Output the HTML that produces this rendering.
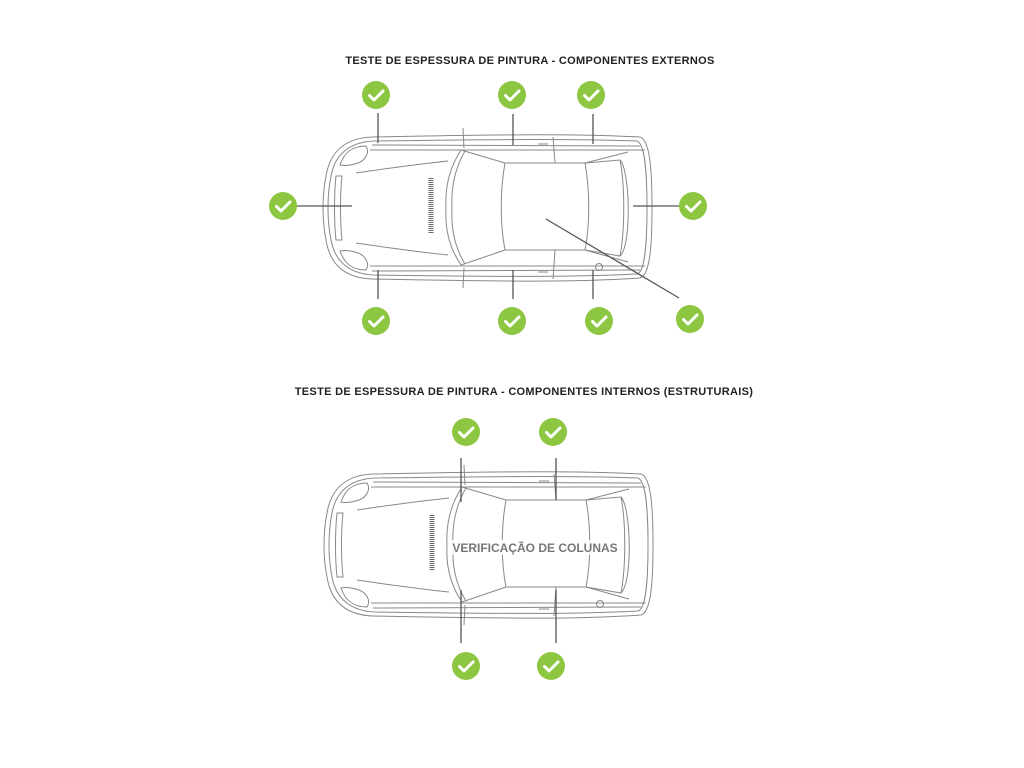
<!DOCTYPE html>
<html><head><meta charset="utf-8"><style>
html,body{margin:0;padding:0;background:#fff;}
svg{display:block}
</style></head><body>
<svg width="1024" height="768" viewBox="0 0 1024 768" xmlns="http://www.w3.org/2000/svg">
<defs>
<symbol id="ck" viewBox="-15 -15 30 30" overflow="visible">
<circle r="14" fill="#8dc640"/>
<path d="M-6.5 0.5 L-2 5 L7 -4" fill="none" stroke="#fff" stroke-width="3" stroke-linecap="round" stroke-linejoin="round"/>
</symbol>
<g id="car" fill="none" stroke="#888" stroke-width="1">
<path d="M372 137 C520 134 580 134 640 137 C650 140 652 170 652 208 C652 246 650 275 640 278 C580 282 520 282 372 279 C345 278 330 265 326 240 C322 220 322 196 326 176 C330 152 345 138 372 137 Z"/>
<path d="M374 141 C520 139 580 139 637 141 C645 144 647 172 647 208 C647 244 645 272 637 274 C580 277 520 277 374 275 C350 274 335 262 331 240 C327 220 327 196 331 176 C335 154 350 142 374 141 Z"/>
<path d="M370 150 L645 150 M370 266 L645 266"/>
<path d="M372 145 L640 146 M372 271 L640 270"/>
<path d="M340 165 C345 150 355 146 366 146 C370 152 366 160 358 163 C352 165 345 166 340 165 Z"/>
<path d="M340 251 C345 266 355 270 366 270 C370 264 366 256 358 253 C352 251 345 250 340 251 Z"/>
<path d="M336 176 C334 195 334 221 336 240 L342 240 C340 221 340 195 342 176 Z"/>
<path d="M356 173 C390 168 420 164 448 161 M356 243 C390 248 420 252 448 255"/>
<g stroke="#666"><line x1="431" y1="178" x2="431" y2="233" stroke-width="5" stroke-dasharray="1 1"/></g>
<path d="M461 150 C448 170 445 190 446 208 C445 226 448 246 461 265"/>
<path d="M465 151 C454 170 451 190 452 208 C451 226 454 246 465 264"/>
<path d="M461 150 L505 163 L585 163 L628 152 M461 265 L505 250 L585 250 L628 262"/>
<path d="M464 148 L463 128 M464 268 L463 288"/>
<path d="M505 163 C500 190 500 225 505 250 M585 163 C590 190 590 225 585 250"/>
<path d="M585 163 L620 160 C625 185 625 230 620 256 L585 250"/>
<path d="M620 160 C630 170 632 245 620 256"/>
<path d="M553 137 L555 163 M553 279 L555 250"/>
<path d="M538 144 L548 144 M538 272 L548 272"/>
<circle cx="599" cy="267" r="3.5"/>
</g>
</defs>

<text x="530" y="64" text-anchor="middle" font-family="Liberation Sans, sans-serif" font-weight="bold" font-size="11" letter-spacing="0.3" fill="#222">TESTE DE ESPESSURA DE PINTURA - COMPONENTES EXTERNOS</text>
<text x="524" y="395" text-anchor="middle" font-family="Liberation Sans, sans-serif" font-weight="bold" font-size="11" letter-spacing="0.3" fill="#222">TESTE DE ESPESSURA DE PINTURA - COMPONENTES INTERNOS (ESTRUTURAIS)</text>

<use href="#car"/>
<g stroke="#555" stroke-width="1.3">
<line x1="378" y1="113" x2="378" y2="143"/>
<line x1="513" y1="114" x2="513" y2="145"/>
<line x1="593" y1="114" x2="593" y2="144"/>
<line x1="378" y1="270" x2="378" y2="299"/>
<line x1="513" y1="270" x2="513" y2="299"/>
<line x1="593" y1="270" x2="593" y2="299"/>
<line x1="297" y1="206" x2="352" y2="206"/>
<line x1="633" y1="206" x2="680" y2="206"/>
<line x1="546" y1="219" x2="679" y2="298"/>
</g>
<use href="#ck" x="361" y="80" width="30" height="30"/>
<use href="#ck" x="497" y="80" width="30" height="30"/>
<use href="#ck" x="576" y="80" width="30" height="30"/>
<use href="#ck" x="268" y="191" width="30" height="30"/>
<use href="#ck" x="678" y="191" width="30" height="30"/>
<use href="#ck" x="361" y="306" width="30" height="30"/>
<use href="#ck" x="497" y="306" width="30" height="30"/>
<use href="#ck" x="584" y="306" width="30" height="30"/>
<use href="#ck" x="675" y="304" width="30" height="30"/>

<use href="#car" transform="translate(1,337)"/>
<g stroke="#555" stroke-width="1.3">
<line x1="461" y1="458" x2="461" y2="502"/>
<line x1="556" y1="458" x2="556" y2="500"/>
<line x1="461" y1="590" x2="461" y2="643"/>
<line x1="556" y1="590" x2="556" y2="643"/>
</g>
<rect x="449" y="540" width="172" height="15" fill="#fff" opacity="0.85"/>
<text x="535" y="552" text-anchor="middle" font-family="Liberation Sans, sans-serif" font-weight="bold" font-size="12" fill="#777">VERIFICAÇÃO DE COLUNAS</text>
<use href="#ck" x="451" y="417" width="30" height="30"/>
<use href="#ck" x="538" y="417" width="30" height="30"/>
<use href="#ck" x="451" y="651" width="30" height="30"/>
<use href="#ck" x="536" y="651" width="30" height="30"/>
</svg>
</body></html>
